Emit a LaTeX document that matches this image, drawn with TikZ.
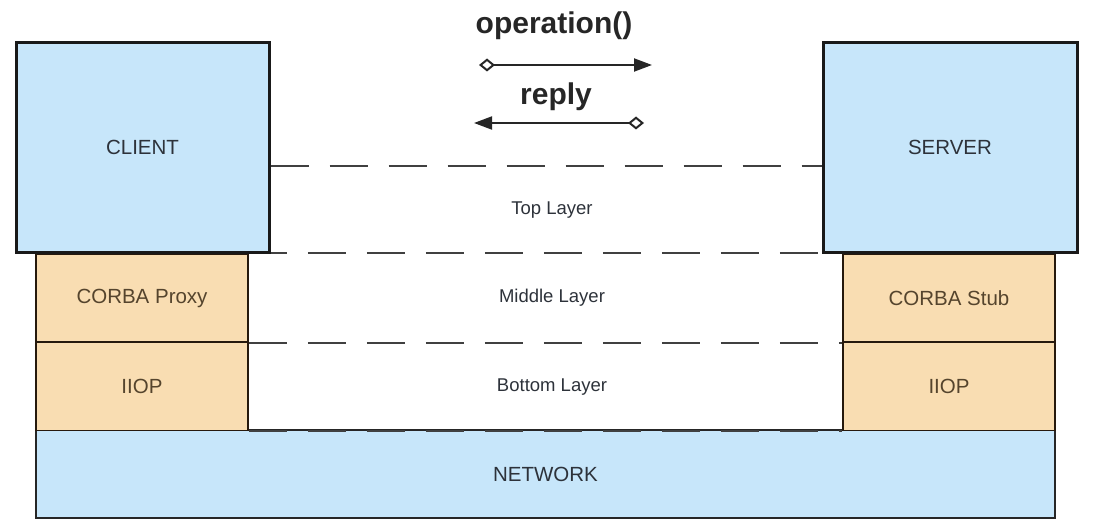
\documentclass[tikz,border=0pt]{standalone}
\usepackage{fontspec}
\setmainfont{Liberation Sans}
\usetikzlibrary{arrows.meta}
\definecolor{netblue}{RGB}{199,230,250}
\definecolor{orbtan}{RGB}{249,221,178}
\definecolor{ink}{RGB}{45,50,58}
\definecolor{browntext}{RGB}{85,68,45}
\begin{document}
\begin{tikzpicture}[x=1pt,y=-1pt,
  endbox/.style={draw=black!90,line width=3pt,fill=netblue,inner sep=0pt,
    font=\fontsize{20.5}{24}\selectfont,text=ink},
  orbbox/.style={draw=black!80!brown,line width=1.5pt,fill=orbtan,inner sep=0pt,
    font=\fontsize{20.5}{24}\selectfont,text=browntext,minimum width=212pt,minimum height=88pt},
  netbox/.style={draw=black!85,line width=1.5pt,fill=netblue,inner sep=0pt,
    font=\fontsize{20.5}{24}\selectfont,text=ink},
  layerline/.style={draw=black!75,line width=2pt,dash pattern=on 38pt off 21pt},
  layerlabel/.style={font=\fontsize{18.5}{22}\selectfont,text=ink},
  msglabel/.style={font=\bfseries\fontsize{30}{34}\selectfont,text=black!85},
  msg/.style={line width=2pt,draw=black!85,
    arrows={{Diamond[open,length=16pt,width=13pt,line width=2pt]}-{Triangle[length=18pt,width=13pt]}}}]
\useasboundingbox (0,0) rectangle (1111,524);

% network base
\node[netbox,minimum width=1019pt,minimum height=88pt] (net) at (545.5,474) {NETWORK};

% client-side ORB stack
\node[orbbox] (proxy) at (142,298) {CORBA Proxy};
\node[orbbox] (ciiop) at (142,386.5) {IIOP};
% server-side ORB stack
\node[orbbox] (stub) at (949,298) {CORBA Stub};
\node[orbbox] (siiop) at (949,386.5) {IIOP};

% layer boundaries
\draw[layerline] (proxy.north east) -- (stub.north west);
\draw[layerline] (proxy.south east) -- (stub.south west);
\draw[layerline] (ciiop.south east) -- (siiop.south west);

% end points
\node[endbox,minimum width=253pt,minimum height=209pt] (client) at (142.5,147.5) {CLIENT};
\node[endbox,minimum width=254pt,minimum height=209pt] (server) at (950,147.5) {SERVER};
\draw[layerline] (client.east |- 0,166) -- (server.west |- 0,166);

% layer names
\node[layerlabel] (top) at (552,210) {Top Layer};
\node[layerlabel] (mid) at (552,298) {Middle Layer};
\node[layerlabel] (bot) at (552,387) {Bottom Layer};

% request / reply messages
\node[msglabel] (oplbl) at (554,26) {operation()};
\coordinate (opS) at (479,65);
\coordinate (opE) at (652,65);
\draw[msg] (opS) -- (opE);
\node[msglabel] (replbl) at (556,97) {reply};
\coordinate (rpS) at (644,123);
\coordinate (rpE) at (474,123);
\draw[msg] (rpS) -- (rpE);
\end{tikzpicture}
\end{document}
